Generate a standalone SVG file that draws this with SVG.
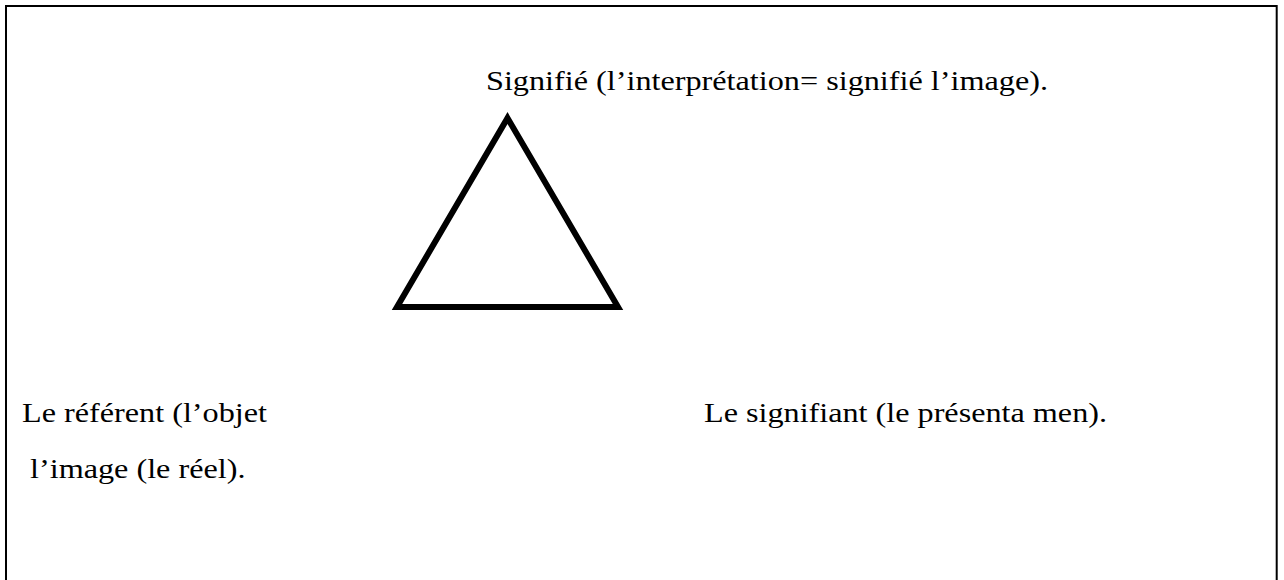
<svg xmlns="http://www.w3.org/2000/svg" width="1284" height="580" viewBox="0 0 1284 580">
<style>
.t{font-family:"Liberation Serif","Times New Roman",serif;font-size:28px;fill:#000}
</style>
<rect x="0" y="0" width="1284" height="580" fill="#fff"/>
<rect id="frame" x="6" y="6" width="1270.7" height="600" fill="none" stroke="#000" stroke-width="2"/>
<g id="triangle">
<polygon points="507.5,118 397,307 618,307" fill="none" stroke="#000" stroke-width="6"/>
</g>
<g id="signifie"><text class="t" x="486" y="90" textLength="562" lengthAdjust="spacingAndGlyphs">Signifié (l’interprétation= signifié l’image).</text></g>
<g id="referent">
<text class="t" x="22" y="422" textLength="245" lengthAdjust="spacingAndGlyphs">Le référent (l’objet</text>
<text class="t" x="22" y="478" textLength="223.5" lengthAdjust="spacingAndGlyphs" xml:space="preserve"> l’image (le réel).</text>
</g>
<g id="signifiant"><text class="t" x="704" y="422" textLength="403" lengthAdjust="spacingAndGlyphs">Le signifiant (le présenta men).</text></g>
<g id="connectors"></g>
</svg>
